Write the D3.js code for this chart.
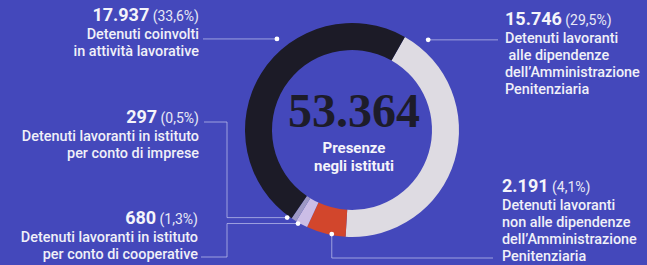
<!DOCTYPE html>
<html>
<head>
<meta charset="utf-8">
<script src="https://cdn.jsdelivr.net/npm/d3@7"></script>
<style>
  html, body { margin: 0; padding: 0; background: #4448bb; }
  svg { display: block; }
  .num { font-family: Roboto, sans-serif; font-weight: 700; fill: #f4f4fa; }
  .pct { font-family: Roboto, sans-serif; font-weight: 400; fill: #e8e8f6; }
  .lbl { font-family: Roboto, sans-serif; font-weight: 500; fill: #f0f0f8; }
</style>
</head>
<body>
<svg id="chart" width="647" height="265"></svg>
<script>
// data, in ring order (clockwise from the top right)
const categories = [
    "Detenuti lavoranti alle dipendenze dell'Amministrazione Penitenziaria",
    "Detenuti lavoranti non alle dipendenze dell'Amministrazione Penitenziaria",
    "Detenuti lavoranti in istituto per conto di cooperative",
    "Detenuti lavoranti in istituto per conto di imprese",
    "Detenuti coinvolti in attività lavorative"
]
const values = [15746, 2191, 680, 297, 17937]
const percents = [29.5, 4.1, 1.3, 0.5, 33.6]
const labelLines = [
    ["Detenuti lavoranti", " alle dipendenze", "dell\u2019Amministrazione", "Penitenziaria"],
    ["Detenuti lavoranti", "non alle dipendenze", "dell\u2019Amministrazione", "Penitenziaria"],
    ["Detenuti lavoranti in istituto", "per conto di cooperative"],
    ["Detenuti lavoranti in istituto", "per conto di imprese"],
    ["Detenuti coinvolti", "in attività lavorative"]
]
const totalPresenze = 53364
const centerLines = ["Presenze", "negli istituti"]

const sliceColors = ["#dedbe2", "#d2462c", "#cbbde6", "#9d98c4", "#1c1b27"]

// layout
const W = 647, H = 265
const cx = 352, cy = 130, rOut = 107, rIn = 80
const startDeg = 29.6

// label placement: x, first baseline, anchor, leader (dot angle/radius, bend)
const labelPos = [
    {x: 505, y: 25, anchor: "start", dotDeg: 40.2, dotR: 118, endX: 498},
    {x: 502, y: 192, anchor: "start", dotDeg: 191, dotR: 106, bendY: 258, endX: 493},
    {x: 198, y: 224, anchor: "end", dotDeg: 210, dotR: 108, bendX: 227, lineY: 257, endX: 201},
    {x: 199, y: 123, anchor: "end", dotDeg: 216.5, dotR: 109, bendX: 227, lineY: 122, endX: 204},
    {x: 199, y: 21, anchor: "end", dotDeg: 320.5, dotR: 118, endX: 203}
]

const it = d3.formatLocale({decimal: ",", thousands: ".", grouping: [3], currency: ["€", ""]})
const fmtNum = it.format(",d")
const fmtPct = it.format(".1f")

const svg = d3.select("#chart")
svg.append("rect").attr("width", W).attr("height", H).attr("fill", "#4448bb")

const rad = d => d * Math.PI / 180
const pie = d3.pie().sort(null).value(d => d)
    .startAngle(rad(startDeg)).endAngle(rad(startDeg + 360))
const arc = d3.arc().innerRadius(rIn).outerRadius(rOut)

const ring = svg.append("g").attr("transform", "translate(" + cx + "," + cy + ")")
ring.selectAll("path")
    .data(pie(values))
    .join("path")
    .attr("d", arc)
    .attr("fill", (d, i) => sliceColors[i])

// centre
svg.append("text")
    .attr("x", cx + 2).attr("y", 127)
    .attr("text-anchor", "middle")
    .style("font-family", "'Liberation Serif', serif")
    .style("font-weight", "700")
    .style("font-size", "48px")
    .attr("fill", "#1d1c2a")
    .text(fmtNum(totalPresenze))

svg.append("text")
    .attr("text-anchor", "middle")
    .style("font-family", "Roboto, sans-serif")
    .style("font-weight", "700")
    .style("font-size", "15px")
    .attr("fill", "#f4f4fa")
    .selectAll("tspan")
    .data(centerLines)
    .join("tspan")
    .attr("x", cx + 2)
    .attr("y", (d, i) => 153 + i * 18)
    .text(d => d)

// leaders
const polar = (deg, r) => [cx + r * Math.sin(rad(deg)), cy - r * Math.cos(rad(deg))]
const line = d3.line()
const leaders = svg.append("g")
labelPos.forEach((p, i) => {
    let dot = polar(p.dotDeg, p.dotR)
    let pts
    if (p.bendX !== undefined) {
        pts = [[p.endX, p.lineY], [p.bendX, p.lineY], [p.bendX, dot[1]], dot]
    }
    else if (p.bendY !== undefined) {
        pts = [dot, [dot[0], p.bendY], [p.endX, p.bendY]]
    }
    else {
        pts = [[p.endX, dot[1]], dot]
    }
    leaders.append("path")
        .attr("d", line(pts))
        .attr("fill", "none")
        .attr("stroke", "#c9ccf2")
        .attr("stroke-opacity", 0.75)
        .attr("stroke-width", 0.9)
    leaders.append("circle")
        .attr("cx", dot[0]).attr("cy", dot[1])
        .attr("r", 2.4)
        .attr("fill", "#ffffff")
})

// labels: one text block each, header + description lines
labelPos.forEach((p, i) => {
    let t = svg.append("text")
        .attr("text-anchor", p.anchor)
        .attr("xml:space", "preserve")
        .style("white-space", "pre")
    t.append("tspan").attr("class", "num")
        .attr("x", p.x).attr("y", p.y)
        .style("font-size", "18px")
        .text(fmtNum(values[i]))
    t.append("tspan").attr("class", "pct")
        .style("font-size", "14px")
        .text(" (" + fmtPct(percents[i]) + "%)")
    labelLines[i].forEach((s, j) => {
        t.append("tspan").attr("class", "lbl")
            .attr("x", p.x)
            .attr("y", p.y + 18 + j * 17)
            .style("font-size", "14.4px")
            .text(s)
    })
})
</script>
</body>
</html>
